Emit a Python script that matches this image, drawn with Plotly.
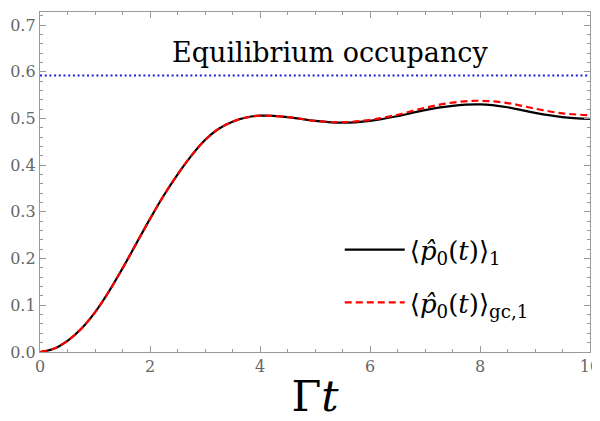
import plotly.graph_objects as go

t = [0, 0.25, 0.5, 0.75, 1.0, 1.25, 1.5, 1.75, 2.0, 2.25, 2.5, 2.75, 3.0, 3.25, 3.5, 3.75,
     4.0, 4.5, 5.0, 5.5, 6.0, 6.5, 7.0, 7.5, 8.0, 8.5, 9.0, 9.5, 10.0]
p_canon = [0.0, 0.007, 0.024, 0.050, 0.085, 0.129, 0.179, 0.232, 0.285, 0.335, 0.380, 0.420,
           0.454, 0.478, 0.493, 0.502, 0.506, 0.503, 0.495, 0.491, 0.495, 0.505, 0.518,
           0.527, 0.530, 0.524, 0.512, 0.503, 0.499]
p_gc = [0.0, 0.007, 0.024, 0.050, 0.085, 0.129, 0.179, 0.232, 0.285, 0.335, 0.380, 0.420,
        0.454, 0.478, 0.493, 0.502, 0.506, 0.503, 0.495, 0.492, 0.497, 0.508, 0.523,
        0.534, 0.538, 0.533, 0.521, 0.511, 0.507]
t_eq = [0, 10]
p_eq = [0.592, 0.592]

serif = "DejaVu Serif"

fig = go.Figure()
fig.add_trace(go.Scatter(x=t_eq, y=p_eq, mode="lines", showlegend=False,
                         line=dict(color="#1f1fe0", width=1.8, dash="2px,2.7px")))
fig.add_trace(go.Scatter(x=t, y=p_canon, mode="lines", line_shape="spline",
                         legendgroup="a",
                         name="⟨<i>p̂</i><sub>0</sub>(<i>t</i>)⟩<sub>1</sub>",
                         line=dict(color="black", width=2.2, smoothing=1.0)))
fig.add_trace(go.Scatter(x=t, y=p_gc, mode="lines", line_shape="spline",
                         legendgroup="b",
                         name="⟨<i>p̂</i><sub>0</sub>(<i>t</i>)⟩<sub>gc,1</sub>",
                         line=dict(color="#ff0000", width=2.2, dash="7px,4px", smoothing=1.0)))

fig.add_annotation(x=5.27, y=0.642, xref="x", yref="y", text="Equilibrium occupancy",
                   showarrow=False, font=dict(family=serif, size=27, color="black"))

axcol = "#9a9a9a"
common = dict(showline=True, linecolor=axcol, linewidth=1.3, mirror="ticks",
              ticks="inside", ticklen=6, tickcolor=axcol, showgrid=False, zeroline=False,
              automargin=False, ticklabeloverflow="allow",
              tickfont=dict(family=serif, size=16, color="#666666"))
fig.update_xaxes(range=[0, 10], dtick=2, tick0=0,
                 minor=dict(dtick=0.5, ticks="inside", ticklen=3, tickcolor=axcol),
                 title=dict(text="Γ<i>t</i>", font=dict(family=serif, size=43, color="black"),
                            standoff=11),
                 **common)
fig.update_yaxes(range=[0, 0.728], dtick=0.1, tick0=0, tickformat=".1f",
                 minor=dict(dtick=0.02, ticks="inside", ticklen=3, tickcolor=axcol),
                 **common)

# page body adds an 8px offset, so the figure is 8px smaller and margins shifted
fig.update_layout(width=592, height=413, margin=dict(l=32, r=10, t=4, b=69),
                  plot_bgcolor="white", paper_bgcolor="white",
                  legend=dict(x=0.545, y=0.37, xanchor="left", yanchor="top",
                              bgcolor="rgba(0,0,0,0)", itemwidth=60, tracegroupgap=16,
                              font=dict(family=serif, size=26, color="black")))

fig.write_html("out.html")
